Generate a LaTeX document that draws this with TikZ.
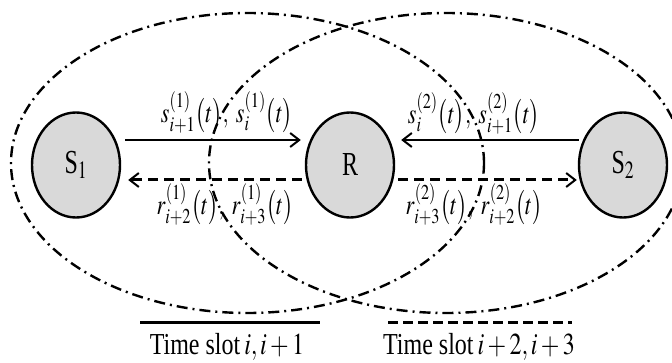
\documentclass[tikz,border=0pt]{standalone}
\usepackage{mathptmx}
\usepackage[no-math]{fontspec}
\setmainfont{Liberation Serif}
\usetikzlibrary{arrows.meta,shapes.geometric}
\definecolor{nodegray}{HTML}{D9D9D9}
\begin{document}
\begin{tikzpicture}[x=1pt,y=-1pt,
  station/.style={ellipse, draw, line width=2.4pt, fill=nodegray,
    minimum width=88pt, minimum height=105pt, inner sep=0pt},
  nlbl/.style={font=\fontsize{24}{24}\selectfont, yscale=1.4, inner sep=0pt},
  lbl/.style={font=\fontsize{24}{24}\selectfont, yscale=1.27, inner sep=0pt},
  mlbl/.style={font=\fontsize{22}{22}\selectfont, yscale=1.3, inner sep=0pt},
  zone/.style={line width=2.4pt, dash pattern=on 11pt off 5pt on 2pt off 5pt},
  tip/.style={-{Straight Barb[length=9pt,width=14pt,line width=2pt]}},
  sig/.style={line width=2.2pt, tip},
  rel/.style={line width=3pt, dash pattern=on 10pt off 6pt, tip},
]
\useasboundingbox (0,0) rectangle (672,363);
% coverage zones
\draw[zone] (247.5,163) ellipse [x radius=236.5pt, y radius=150pt];
\draw[zone] (446,163) ellipse [x radius=237pt, y radius=150pt];
% stations
\node[station] (S1) at (76,165) {};
\node[station] (R) at (350,165) {};
\node[station] (S2) at (623,165) {};
\node[nlbl] (S1t) at (S1) {S$_{1}$};
\node[nlbl] (Rt) at (R) {R};
\node[nlbl] (S2t) at (S2) {S$_{2}$};
% links
\draw[sig] ([xshift=4pt,yshift=25pt]S1.east) -- ([xshift=-4pt,yshift=25pt]R.west);
\draw[rel] ([xshift=-3pt,yshift=-15pt]R.west) -- ([xshift=7pt,yshift=-15pt]S1.east);
\draw[sig] ([xshift=1pt,yshift=25pt]S2.west) -- ([xshift=6pt,yshift=25pt]R.east);
\draw[rel] ([xshift=3pt,yshift=-15pt]R.east) -- ([xshift=-1pt,yshift=-15pt]S2.west);
% link labels
\node[mlbl] (l1) at (227,112) {$s_{i+1}^{(1)}\bigl(t\bigr),\;s_{i}^{(1)}\bigl(t\bigr)$};
\node[mlbl] (l2) at (225,204) {$r_{i+2}^{(1)}\bigl(t\bigr),\;r_{i+3}^{(1)}\bigl(t\bigr)$};
\node[mlbl] (l3) at (474,113) {$s_{i}^{(2)}\bigl(t\bigr),\;s_{i+1}^{(2)}\bigl(t\bigr)$};
\node[mlbl] (l4) at (474,204) {$r_{i+3}^{(2)}\bigl(t\bigr),\;r_{i+2}^{(2)}\bigl(t\bigr)$};
% legend
\coordinate (la) at (140,323);
\coordinate (lb) at (320,323);
\coordinate (lc) at (388,323);
\coordinate (ld) at (572,323);
\draw[line width=3pt] (la) -- (lb);
\draw[line width=3pt, dash pattern=on 10pt off 5pt] (lc) -- (ld);
\node[lbl, anchor=base] (t1) at (227,355) {Time slot\,$i,i+1$};
\node[lbl, anchor=base] (t2) at (479,355) {Time slot\,$i+2,i+3$};
\end{tikzpicture}
\end{document}
